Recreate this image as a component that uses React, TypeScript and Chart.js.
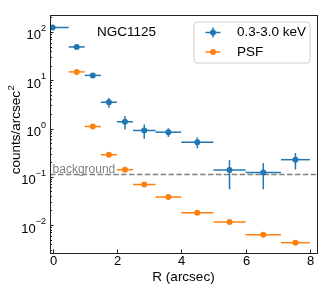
import React, { useEffect, useRef } from 'react';
import { Chart, registerables } from 'chart.js';
Chart.register(...registerables);

// ---- data ----
const rCenter = [0, 0.75, 1.25, 1.75, 2.25, 2.85, 3.6, 4.5, 5.5, 6.55, 7.55];
const rErr = [0.5, 0.25, 0.25, 0.25, 0.25, 0.35, 0.4, 0.5, 0.5, 0.55, 0.45];
const bandCounts = [124, 49, 12.6, 3.5, 1.38, 0.91, 0.84, 0.52, 0.138, 0.123, 0.226];
const bandErr = [5, 3, 1.2, 0.8, 0.43, 0.3, 0.17, 0.13, 0.083, 0.068, 0.085];
const psfCounts: (number | null)[] = [null, 14.9, 1.1, 0.286, 0.14, 0.069, 0.038, 0.018, 0.0115, 0.0063, 0.0043];
const backgroundLevel = 0.116;
const xTicks = [0, 2, 4, 6, 8];
const yDecades = [-2, -1, 0, 1, 2];
const seriesLabels = ['0.3-3.0 keV', 'PSF'];
const seriesColors = ['#1f77b4', '#ff7f0e'];
const sourceName = 'NGC1125';
const xTitle = 'R (arcsec)';
const yTitle = 'counts/arcsec';
const yTitleExp = '2';
const bgLabel = 'background';

const FONT = '"Liberation Sans", Arial, sans-serif';

const drawPlugin = {
  id: 'custom',
  beforeDatasetsDraw(chart: any) {
    const { ctx, chartArea: a, scales } = chart;
    const xs = scales.x, ys = scales.y;
    ctx.save();
    ctx.beginPath();
    ctx.rect(a.left, a.top, a.right - a.left, a.bottom - a.top);
    ctx.clip();
    // background line
    const by = Math.round(ys.getPixelForValue(backgroundLevel)) + 0.5;
    ctx.strokeStyle = '#808080';
    ctx.lineWidth = 1.3;
    ctx.setLineDash([5.5, 2.4]);
    ctx.beginPath();
    ctx.moveTo(a.left, by);
    ctx.lineTo(a.right, by);
    ctx.stroke();
    ctx.setLineDash([]);
    ctx.fillStyle = '#808080';
    ctx.font = `12px ${FONT}`;
    ctx.textAlign = 'left';
    ctx.textBaseline = 'alphabetic';
    ctx.fillText(bgLabel, xs.getPixelForValue(0), by - 2);
    // error bars
    ctx.lineWidth = 1.5;
    const series = [
      { ys: bandCounts, es: bandErr, c: seriesColors[0] },
      { ys: psfCounts, es: null as any, c: seriesColors[1] },
    ];
    series.forEach((s) => {
      ctx.strokeStyle = s.c;
      rCenter.forEach((r, i) => {
        const v = s.ys[i];
        if (v == null) return;
        const py = ys.getPixelForValue(v);
        ctx.beginPath();
        ctx.moveTo(xs.getPixelForValue(r - rErr[i]), py);
        ctx.lineTo(xs.getPixelForValue(r + rErr[i]), py);
        ctx.stroke();
        if (s.es) {
          const e = s.es[i];
          const lo = v - e > 0 ? ys.getPixelForValue(v - e) : a.bottom;
          const hi = ys.getPixelForValue(v + e);
          const px = xs.getPixelForValue(r);
          ctx.beginPath();
          ctx.moveTo(px, lo);
          ctx.lineTo(px, hi);
          ctx.stroke();
        }
      });
    });
    ctx.restore();
  },
  afterDatasetsDraw(chart: any) {
    const { ctx, chartArea: a, scales } = chart;
    const xs = scales.x, ys = scales.y;
    ctx.save();
    // frame
    ctx.strokeStyle = '#222';
    ctx.lineWidth = 1;
    ctx.strokeRect(Math.round(a.left) + 0.5, Math.round(a.top) + 0.5, Math.round(a.right - a.left), Math.round(a.bottom - a.top));
    // x ticks
    ctx.fillStyle = '#000';
    ctx.font = `13px ${FONT}`;
    ctx.textAlign = 'center';
    ctx.textBaseline = 'middle';
    xTicks.forEach((t) => {
      const px = Math.round(xs.getPixelForValue(t)) + 0.5;
      ctx.beginPath();
      ctx.moveTo(px, a.bottom);
      ctx.lineTo(px, a.bottom - 3.5);
      ctx.stroke();
      ctx.fillText(String(t), px, a.bottom + 8.5);
    });
    // y ticks
    for (let d = -3; d <= 2; d++) {
      for (let m = 1; m <= 9; m++) {
        const v = m * Math.pow(10, d);
        if (v < ys.min || v > ys.max) continue;
        const py = Math.round(ys.getPixelForValue(v)) + 0.5;
        ctx.beginPath();
        ctx.moveTo(a.left, py);
        ctx.lineTo(a.left + (m === 1 ? 3.5 : 2), py);
        ctx.stroke();
      }
    }
    yDecades.forEach((d) => {
      const py = ys.getPixelForValue(Math.pow(10, d));
      const exp = d < 0 ? '\u2212' + String(-d) : String(d);
      ctx.font = `9px ${FONT}`;
      const ew = ctx.measureText(exp).width;
      const right = a.left - 4;
      ctx.textAlign = 'right';
      ctx.textBaseline = 'alphabetic';
      ctx.fillText(exp, right, py - 1);
      ctx.font = `13px ${FONT}`;
      ctx.fillText('10', right - ew, py + 7.5);
    });
    // x title
    ctx.font = `13.5px ${FONT}`;
    ctx.textAlign = 'center';
    ctx.textBaseline = 'middle';
    ctx.fillText(xTitle, (a.left + a.right) / 2, 277);
    // y title
    ctx.save();
    ctx.translate(15, 130);
    ctx.rotate(-Math.PI / 2);
    ctx.font = `13.5px ${FONT}`;
    const tw = ctx.measureText(yTitle).width;
    ctx.font = `9.5px ${FONT}`;
    const ew2 = ctx.measureText(yTitleExp).width;
    const start = -(tw + ew2) / 2;
    ctx.textAlign = 'left';
    ctx.textBaseline = 'alphabetic';
    ctx.font = `13.5px ${FONT}`;
    ctx.fillText(yTitle, start, 5);
    ctx.font = `9.5px ${FONT}`;
    ctx.fillText(yTitleExp, start + tw + 0.5, -1.5);
    ctx.restore();
    // source name
    ctx.font = `13.5px ${FONT}`;
    ctx.textAlign = 'left';
    ctx.textBaseline = 'middle';
    ctx.fillText(sourceName, 97, 32);
    // legend
    const lx = 194, ly = 22, lw = 116, lh = 41, rr = 3;
    ctx.beginPath();
    ctx.moveTo(lx + rr, ly);
    ctx.arcTo(lx + lw, ly, lx + lw, ly + lh, rr);
    ctx.arcTo(lx + lw, ly + lh, lx, ly + lh, rr);
    ctx.arcTo(lx, ly + lh, lx, ly, rr);
    ctx.arcTo(lx, ly, lx + lw, ly, rr);
    ctx.closePath();
    ctx.fillStyle = 'rgba(255,255,255,0.8)';
    ctx.fill();
    ctx.strokeStyle = '#d0d0d0';
    ctx.lineWidth = 1;
    ctx.stroke();
    seriesLabels.forEach((lab, i) => {
      const cy = 32.5 + i * 19.5;
      const cx = 213;
      ctx.strokeStyle = seriesColors[i];
      ctx.fillStyle = seriesColors[i];
      ctx.lineWidth = 1.5;
      ctx.beginPath();
      ctx.moveTo(cx - 7.5, cy);
      ctx.lineTo(cx + 7.5, cy);
      ctx.stroke();
      if (i === 0) {
        ctx.beginPath();
        ctx.moveTo(cx, cy - 5);
        ctx.lineTo(cx, cy + 5);
        ctx.stroke();
      }
      ctx.beginPath();
      ctx.arc(cx, cy, 3, 0, Math.PI * 2);
      ctx.fill();
      ctx.fillStyle = '#000';
      ctx.font = `13.5px ${FONT}`;
      ctx.textAlign = 'left';
      ctx.textBaseline = 'middle';
      ctx.fillText(lab, 237, cy);
    });
    ctx.restore();
  },
};

export default function App() {
  const ref = useRef<HTMLCanvasElement>(null);
  useEffect(() => {
    const bandData = rCenter.map((x, i) => ({ x, y: bandCounts[i] }));
    const psfData = rCenter
      .map((x, i) => ({ x, y: psfCounts[i] }))
      .filter((p) => p.y != null);
    const chart = new Chart(ref.current!, {
      type: 'scatter',
      data: {
        datasets: [
          {
            label: seriesLabels[0],
            data: bandData as any,
            backgroundColor: seriesColors[0],
            borderColor: seriesColors[0],
            pointRadius: 3,
            borderWidth: 0,
          },
          {
            label: seriesLabels[1],
            data: psfData as any,
            backgroundColor: seriesColors[1],
            borderColor: seriesColors[1],
            pointRadius: 3,
            borderWidth: 0,
          },
        ],
      },
      options: {
        animation: false,
        responsive: false,
        devicePixelRatio: 1,
        layout: { padding: { top: 15, right: 7, left: 0, bottom: 0 } },
        plugins: { legend: { display: false }, tooltip: { enabled: false } },
        scales: {
          x: {
            type: 'linear',
            min: -0.08,
            max: 8.22,
            ticks: { display: false },
            grid: { display: false },
            border: { display: false },
            afterFit: (s: any) => { s.height = 38; },
          },
          y: {
            type: 'logarithmic',
            min: 0.00263,
            max: 225,
            ticks: { display: false },
            grid: { display: false },
            border: { display: false },
            afterFit: (s: any) => { s.width = 50; },
          },
        },
      },
      plugins: [drawPlugin],
    } as any);
    return () => chart.destroy();
  }, []);
  return (
    <div style={{ position: 'absolute', left: 0, top: 0, width: 324, height: 291 }}>
      <canvas ref={ref} width={324} height={291} style={{ display: 'block' }} />
    </div>
  );
}
